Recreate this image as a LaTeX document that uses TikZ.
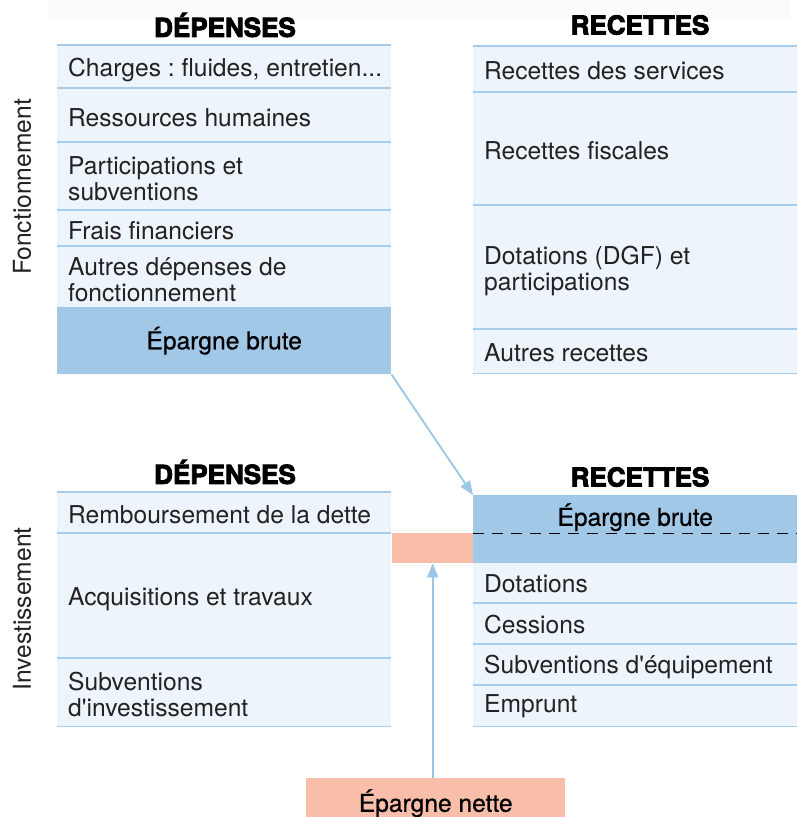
\documentclass[tikz,border=0pt]{standalone}
\usepackage{fontspec}
\setmainfont{TeX Gyre Heros}
\newfontfamily\headf{TeX Gyre Heros}[BoldFeatures={FakeBold=3.5}]
\newfontfamily\medf{TeX Gyre Heros}[FakeBold=0.6]
\usetikzlibrary{arrows.meta}
\definecolor{cellbg}{HTML}{EEF4FB}
\definecolor{sepc}{HTML}{A8CDEA}
\definecolor{darkb}{HTML}{A2C8E7}
\definecolor{salmon}{HTML}{F8BEA9}
\definecolor{txt}{HTML}{222222}
\definecolor{arrc}{HTML}{9CC6E6}
\newcommand\bodyfs{\fontsize{24.6}{26}\selectfont}
\frenchspacing
\begin{document}
\begin{tikzpicture}[x=1pt,y=-1pt,
  cell/.style={rectangle, fill=cellbg, anchor=north west, minimum width=334pt, inner sep=0pt},
  rcell/.style={cell, minimum width=324pt},
  tx/.style={anchor=west, align=left, inner sep=0pt, font=\bodyfs, text=txt},
  dark/.style={rectangle, fill=darkb, anchor=north west, inner sep=0pt,
    align=center, font=\medf\bodyfs, text=black},
  sal/.style={rectangle, fill=salmon, anchor=north west, inner sep=0pt,
    align=center, font=\medf\bodyfs, text=black},
  head/.style={font=\headf\bfseries\fontsize{26}{28}\selectfont, text=black, inner sep=0pt},
  side/.style={font=\bodyfs, text=txt, inner sep=0pt, rotate=90},
  sep/.style={draw=sepc, line width=1.5pt},
  arr/.style={draw=arrc, line width=1.8pt, -{Triangle[length=14pt,width=11pt]}, arrc}
]
\useasboundingbox (0,0) rectangle (798,817);
\fill[white] (0,0) rectangle (798,817);
\fill[black!1.5] (47,0) rectangle (790,20);

% headers
\node[head] (h1) at (225,25) {DÉPENSES};
\node[head] (h2) at (640,25) {RECETTES};
\node[head] (h3) at (225,472) {DÉPENSES};
\node[head] (h4) at (640,477) {RECETTES};

% side labels
\node[side] (s1) at (22,187) {Fonctionnement};
\node[side] (s2) at (22,609) {Investissement};

% top-left: fonctionnement dépenses
\node[cell, minimum height=43pt] (d1) at (57,45) {};
\node[cell, minimum height=54pt] (d2) at (57,88) {};
\node[cell, minimum height=68pt] (d3) at (57,142) {};
\node[cell, minimum height=36pt] (d4) at (57,210) {};
\node[cell, minimum height=61pt] (d5) at (57,246) {};
\node[dark, minimum width=334pt, minimum height=67pt] (eb1) at (57,307) {Épargne brute};
\foreach \n in {d1,d2,d3,d4,d5}{\draw[sep] (\n.north west) -- (\n.north east);}
\node[tx] (d1t) at ([xshift=11pt,yshift=-3pt]d1.west) {Charges : fluides, entretien...};
\node[tx] (d2t) at ([xshift=11pt,yshift=-3pt]d2.west) {Ressources humaines};
\node[tx] (d3t) at ([xshift=11pt,yshift=-3pt]d3.west) {Participations et\\subventions};
\node[tx] (d4t) at ([xshift=11pt,yshift=-2pt]d4.west) {Frais financiers};
\node[tx] (d5t) at ([xshift=11pt,yshift=-3pt]d5.west) {Autres dépenses de\\fonctionnement};

% top-right: fonctionnement recettes
\node[rcell, minimum height=46pt] (r1) at (473,46) {};
\node[rcell, minimum height=113pt] (r2) at (473,92) {};
\node[rcell, minimum height=124pt] (r3) at (473,205) {};
\node[rcell, minimum height=44pt] (r4) at (473,329) {};
\foreach \n in {r1,r2,r3,r4}{\draw[sep] (\n.north west) -- (\n.north east);}
\draw[sep] (r4.south west) -- (r4.south east);
\node[tx] (r1t) at ([xshift=11pt,yshift=-2pt]r1.west) {Recettes des services};
\node[tx] (r2t) at ([xshift=11pt,yshift=-2pt]r2.west) {Recettes fiscales};
\node[tx] (r3t) at ([xshift=11pt,yshift=-4pt]r3.west) {Dotations (DGF) et\\participations};
\node[tx] (r4t) at ([xshift=11pt,yshift=-2pt]r4.west) {Autres recettes};

% bottom-left: investissement dépenses
\node[cell, minimum height=41pt] (b1) at (57,492) {};
\node[cell, minimum height=125pt] (b2) at (57,533) {};
\node[cell, minimum height=68pt] (b3) at (57,658) {};
\foreach \n in {b1,b2,b3}{\draw[sep] (\n.north west) -- (\n.north east);}
\draw[sep] (b3.south west) -- (b3.south east);
\node[tx] (b1t) at ([xshift=11pt,yshift=-2pt]b1.west) {Remboursement de la dette};
\node[tx] (b2t) at ([xshift=11pt,yshift=-4pt]b2.west) {Acquisitions et travaux};
\node[tx] (b3t) at ([xshift=11pt,yshift=-2pt]b3.west) {Subventions\\d\textquotesingle investissement};

% bottom-right: investissement recettes
\node[dark, minimum width=324pt, minimum height=38pt] (eb2) at (473,495) {};
\node[font=\medf\bodyfs, text=black, inner sep=0pt] (eb2t) at ([yshift=-3pt]eb2.center) {Épargne brute};
\node[dark, minimum width=324pt, minimum height=30pt] (eb2b) at (473,533) {};
\draw[black, line width=1pt, dash pattern=on 11pt off 8pt] (eb2.south west) -- (eb2.south east);
\node[rcell, minimum height=40pt] (c1) at (473,563) {};
\node[rcell, minimum height=41pt] (c2) at (473,603) {};
\node[rcell, minimum height=41pt] (c3) at (473,644) {};
\node[rcell, minimum height=41pt] (c4) at (473,685) {};
\foreach \n in {c2,c3,c4}{\draw[sep] (\n.north west) -- (\n.north east);}
\draw[sep] (c4.south west) -- (c4.south east);
\node[tx] (c1t) at ([xshift=11pt,yshift=-1pt]c1.west) {Dotations};
\node[tx] (c2t) at ([xshift=11pt,yshift=-1pt]c2.west) {Cessions};
\node[tx] (c3t) at ([xshift=11pt,yshift=-2pt]c3.west) {Subventions d\textquotesingle équipement};
\node[tx] (c4t) at ([xshift=11pt,yshift=-1pt]c4.west) {Emprunt};

% épargne nette
\node[sal, minimum width=81pt, minimum height=30pt] (sl) at (392,533) {};
\node[sal, minimum width=259pt, minimum height=50pt] (en) at (306,778) {Épargne nette};

% arrows
\draw[arr] (eb1.south east) -- (eb2.north west);
\draw[arr] (en.north -| sl.south) -- (sl.south);
\end{tikzpicture}
\end{document}
